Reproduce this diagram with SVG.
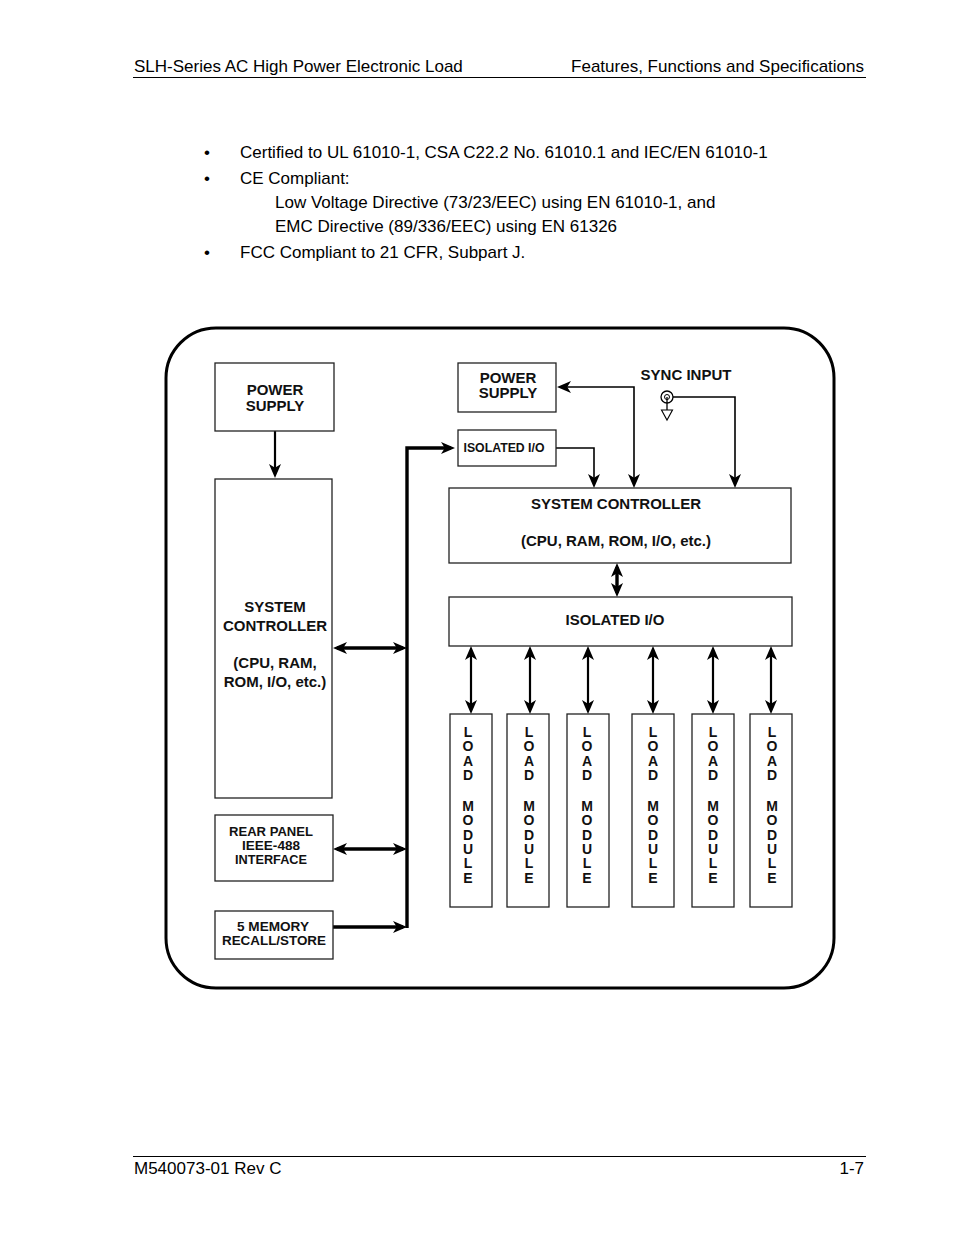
<svg xmlns="http://www.w3.org/2000/svg" width="954" height="1235" viewBox="0 0 954 1235">
<style>
.pg{font-family:"Liberation Sans",Arial,sans-serif;font-size:17px;fill:#000}
.lb{font-family:"Liberation Sans",Arial,sans-serif;font-weight:bold;font-size:15px;fill:#111;text-anchor:middle}
.sm{font-size:13.5px}
.box{fill:#fff;stroke:#222;stroke-width:1.3}
.rule{stroke:#000;stroke-width:1}
.thin{fill:none;stroke:#000;stroke-width:1.6}
.med{fill:none;stroke:#000;stroke-width:2.2}
.thick{fill:none;stroke:#000;stroke-width:3.4}
</style>
<defs>
<marker id="ah" markerUnits="userSpaceOnUse" markerWidth="14" markerHeight="13" viewBox="0 0 14 13" refX="10" refY="6.5" orient="auto-start-reverse">
<path d="M0,0.5 L14,6.5 L0,12.5 L3.8,6.5 z" fill="#000"/>
</marker>
</defs>
<rect width="954" height="1235" fill="#fff"/>

<g id="header">
<text class="pg" x="134" y="72">SLH-Series AC High Power Electronic Load</text>
<text class="pg" x="864" y="72" text-anchor="end">Features, Functions and Specifications</text>
<line class="rule" x1="133" y1="77.5" x2="866" y2="77.5"/>
</g>

<g id="bullets">
<text class="pg" x="204" y="158">•</text>
<text class="pg" x="240" y="158">Certified to UL 61010-1, CSA C22.2 No. 61010.1 and IEC/EN 61010-1</text>
<text class="pg" x="204" y="184">•</text>
<text class="pg" x="240" y="184">CE Compliant:</text>
<text class="pg" x="275" y="208">Low Voltage Directive (73/23/EEC) using EN 61010-1, and</text>
<text class="pg" x="275" y="232">EMC Directive (89/336/EEC) using EN 61326</text>
<text class="pg" x="204" y="258">•</text>
<text class="pg" x="240" y="258">FCC Compliant to 21 CFR, Subpart J.</text>
</g>

<g id="footer">
<line class="rule" x1="133" y1="1156.5" x2="866" y2="1156.5"/>
<text class="pg" x="134" y="1174">M540073-01 Rev C</text>
<text class="pg" x="864" y="1174" text-anchor="end">1-7</text>
</g>

<rect id="frame" x="166" y="328" width="668" height="660" rx="50" ry="50" fill="none" stroke="#000" stroke-width="3"/>

<g id="connectors">
<path class="med" d="M275,431 L275,474" marker-end="url(#ah)"/>
<path class="thick" d="M407,928 L407,448 L451,448" marker-end="url(#ah)"/>
<path class="thick" d="M337,648 L403,648" marker-start="url(#ah)" marker-end="url(#ah)"/>
<path class="thick" d="M337,849 L403,849" marker-start="url(#ah)" marker-end="url(#ah)"/>
<path class="thick" d="M333,927 L403,927" marker-end="url(#ah)"/>
<path class="thin" d="M561,387 L634,387 L634,484" marker-start="url(#ah)" marker-end="url(#ah)"/>
<path class="thin" d="M556,448 L594,448 L594,484" marker-end="url(#ah)"/>
<path class="thin" d="M673,397 L735,397 L735,484" marker-end="url(#ah)"/>
<path class="thick" d="M617,567 L617,593" marker-start="url(#ah)" marker-end="url(#ah)"/>
<path class="med" d="M471,650 L471,710" marker-start="url(#ah)" marker-end="url(#ah)"/>
<path class="med" d="M530,650 L530,710" marker-start="url(#ah)" marker-end="url(#ah)"/>
<path class="med" d="M588,650 L588,710" marker-start="url(#ah)" marker-end="url(#ah)"/>
<path class="med" d="M653,650 L653,710" marker-start="url(#ah)" marker-end="url(#ah)"/>
<path class="med" d="M713,650 L713,710" marker-start="url(#ah)" marker-end="url(#ah)"/>
<path class="med" d="M771,650 L771,710" marker-start="url(#ah)" marker-end="url(#ah)"/>
</g>

<g id="power-supply-left">
<rect class="box" x="215" y="363" width="119" height="68"/>
<text class="lb" x="275" y="395">POWER</text>
<text class="lb" x="275" y="411">SUPPLY</text>
</g>

<g id="system-controller-left">
<rect class="box" x="215" y="479" width="117" height="319"/>
<text class="lb" x="275" y="612">SYSTEM</text>
<text class="lb" x="275" y="631">CONTROLLER</text>
<text class="lb" x="275" y="668">(CPU, RAM,</text>
<text class="lb" x="275" y="687">ROM, I/O, etc.)</text>
</g>

<g id="rear-panel">
<rect class="box" x="215" y="815" width="118" height="66"/>
<text class="lb sm" x="271" y="836" textLength="84" lengthAdjust="spacingAndGlyphs">REAR PANEL</text>
<text class="lb sm" x="271" y="850" textLength="58" lengthAdjust="spacingAndGlyphs">IEEE-488</text>
<text class="lb sm" x="271" y="864" textLength="72" lengthAdjust="spacingAndGlyphs">INTERFACE</text>
</g>

<g id="memory">
<rect class="box" x="215" y="911" width="118" height="48"/>
<text class="lb sm" x="273" y="931" textLength="72" lengthAdjust="spacingAndGlyphs">5 MEMORY</text>
<text class="lb sm" x="274" y="945" textLength="104" lengthAdjust="spacingAndGlyphs">RECALL/STORE</text>
</g>

<g id="power-supply-right">
<rect class="box" x="458" y="363" width="98" height="49"/>
<text class="lb" x="508" y="383">POWER</text>
<text class="lb" x="508" y="398">SUPPLY</text>
</g>

<g id="sync-input">
<text class="lb" x="686" y="380">SYNC INPUT</text>
<circle cx="667" cy="397" r="6" fill="#fff" stroke="#000" stroke-width="1.3"/>
<circle cx="667" cy="397" r="2.5" fill="none" stroke="#000" stroke-width="1"/>
<line x1="667" y1="397" x2="667" y2="410" stroke="#000" stroke-width="1.3"/>
<path d="M661.5,410 L672.5,410 L667,420 z" fill="#fff" stroke="#000" stroke-width="1.1"/>
</g>

<g id="isolated-io-small">
<rect class="box" x="458" y="430" width="98" height="36"/>
<text class="lb sm" x="504" y="452" textLength="81" lengthAdjust="spacingAndGlyphs">ISOLATED I/O</text>
</g>

<g id="system-controller-right">
<rect class="box" x="449" y="488" width="342" height="75"/>
<text class="lb" x="616" y="509">SYSTEM CONTROLLER</text>
<text class="lb" x="616" y="546">(CPU, RAM, ROM, I/O, etc.)</text>
</g>

<g id="isolated-io-large">
<rect class="box" x="449" y="597" width="343" height="49"/>
<text class="lb" x="615" y="625">ISOLATED I/O</text>
</g>

<g id="load-module-1">
<rect class="box" x="450" y="714" width="42" height="193"/>
<text class="lb" style="font-size:14px"><tspan x="468" y="737">L</tspan><tspan x="468" y="751">O</tspan><tspan x="468" y="766">A</tspan><tspan x="468" y="780">D</tspan><tspan x="468" y="811">M</tspan><tspan x="468" y="825">O</tspan><tspan x="468" y="840">D</tspan><tspan x="468" y="854">U</tspan><tspan x="468" y="868">L</tspan><tspan x="468" y="883">E</tspan></text>
</g>
<g id="load-module-2">
<rect class="box" x="507" y="714" width="42" height="193"/>
<text class="lb" style="font-size:14px"><tspan x="529" y="737">L</tspan><tspan x="529" y="751">O</tspan><tspan x="529" y="766">A</tspan><tspan x="529" y="780">D</tspan><tspan x="529" y="811">M</tspan><tspan x="529" y="825">O</tspan><tspan x="529" y="840">D</tspan><tspan x="529" y="854">U</tspan><tspan x="529" y="868">L</tspan><tspan x="529" y="883">E</tspan></text>
</g>
<g id="load-module-3">
<rect class="box" x="567" y="714" width="42" height="193"/>
<text class="lb" style="font-size:14px"><tspan x="587" y="737">L</tspan><tspan x="587" y="751">O</tspan><tspan x="587" y="766">A</tspan><tspan x="587" y="780">D</tspan><tspan x="587" y="811">M</tspan><tspan x="587" y="825">O</tspan><tspan x="587" y="840">D</tspan><tspan x="587" y="854">U</tspan><tspan x="587" y="868">L</tspan><tspan x="587" y="883">E</tspan></text>
</g>
<g id="load-module-4">
<rect class="box" x="632" y="714" width="42" height="193"/>
<text class="lb" style="font-size:14px"><tspan x="653" y="737">L</tspan><tspan x="653" y="751">O</tspan><tspan x="653" y="766">A</tspan><tspan x="653" y="780">D</tspan><tspan x="653" y="811">M</tspan><tspan x="653" y="825">O</tspan><tspan x="653" y="840">D</tspan><tspan x="653" y="854">U</tspan><tspan x="653" y="868">L</tspan><tspan x="653" y="883">E</tspan></text>
</g>
<g id="load-module-5">
<rect class="box" x="692" y="714" width="42" height="193"/>
<text class="lb" style="font-size:14px"><tspan x="713" y="737">L</tspan><tspan x="713" y="751">O</tspan><tspan x="713" y="766">A</tspan><tspan x="713" y="780">D</tspan><tspan x="713" y="811">M</tspan><tspan x="713" y="825">O</tspan><tspan x="713" y="840">D</tspan><tspan x="713" y="854">U</tspan><tspan x="713" y="868">L</tspan><tspan x="713" y="883">E</tspan></text>
</g>
<g id="load-module-6">
<rect class="box" x="750" y="714" width="42" height="193"/>
<text class="lb" style="font-size:14px"><tspan x="772" y="737">L</tspan><tspan x="772" y="751">O</tspan><tspan x="772" y="766">A</tspan><tspan x="772" y="780">D</tspan><tspan x="772" y="811">M</tspan><tspan x="772" y="825">O</tspan><tspan x="772" y="840">D</tspan><tspan x="772" y="854">U</tspan><tspan x="772" y="868">L</tspan><tspan x="772" y="883">E</tspan></text>
</g>
</svg>
